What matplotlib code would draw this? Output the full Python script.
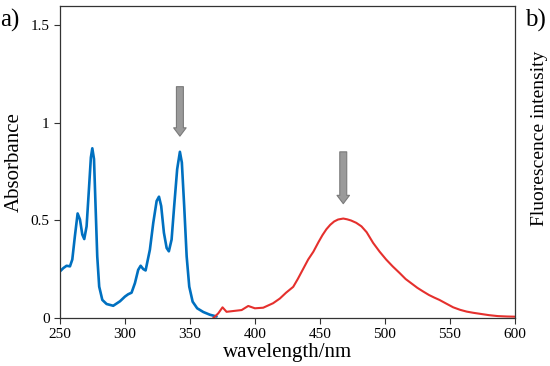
import matplotlib
matplotlib.use("Agg")
import matplotlib.pyplot as plt

plt.rcParams['font.family'] = ['Liberation Serif', 'DejaVu Serif']

# Absorbance (blue)
abs_wl = [250, 252.6, 255.1, 257.7, 259.5, 261.5, 263.6, 265.4, 267.2, 268.7, 270.5, 272.3, 273.8, 274.9, 276.2,
          277.4, 278.7, 280.2, 282.6, 285.9, 291, 296.2, 300, 302.5, 305.1, 307.7, 310.2, 312.1, 314.1, 315.9,
          319.2, 321.8, 324.4, 326.2, 327.9, 330, 332.1, 333.8, 335.9, 337.9, 340.2, 342.3, 343.8, 345.6, 347.5,
          349.5, 352.1, 355.6, 360.3, 365.4, 370.5]
abs_val = [0.239, 0.256, 0.268, 0.265, 0.30, 0.42, 0.536, 0.505, 0.428, 0.405, 0.47, 0.66, 0.823, 0.87, 0.815,
           0.574, 0.316, 0.161, 0.093, 0.072, 0.063, 0.086, 0.11, 0.122, 0.13, 0.179, 0.247, 0.268, 0.251, 0.244,
           0.35, 0.488, 0.60, 0.622, 0.574, 0.437, 0.359, 0.342, 0.402, 0.574, 0.763, 0.852, 0.797, 0.574, 0.316,
           0.161, 0.084, 0.05, 0.031, 0.017, 0.008]

# Fluorescence (red)
fl_wl = [368, 371.8, 375.1, 378.2, 383.3, 389.8, 394.9, 400, 406.4, 414, 419.2, 424, 429.5, 433, 437, 441, 445,
         449, 452, 455, 458, 461, 464, 468, 471, 474, 478, 482, 486, 491, 496, 501, 506, 511.5, 516, 521, 525,
         529.5, 534, 538, 542, 547, 552.6, 558, 563, 568, 573, 580, 587, 594, 600]
fl_val = [0.0, 0.024, 0.055, 0.032, 0.036, 0.041, 0.062, 0.05, 0.053, 0.076, 0.10, 0.13, 0.16, 0.2, 0.25, 0.3,
          0.34, 0.39, 0.425, 0.455, 0.478, 0.495, 0.505, 0.51, 0.506, 0.5, 0.488, 0.47, 0.44, 0.385, 0.34, 0.3,
          0.265, 0.23, 0.2, 0.175, 0.155, 0.136, 0.118, 0.105, 0.093, 0.075, 0.055, 0.042, 0.033, 0.027, 0.022,
          0.015, 0.01, 0.008, 0.007]

# Arrows (x, y_top, y_bottom)
arrow_x = [342.3, 468]
arrow_top = [1.20, 0.866]
arrow_bot = [0.918, 0.572]

x_ticks = [250, 300, 350, 400, 450, 500, 550, 600]
y_ticks = [0, 0.5, 1, 1.5]
y_ticklabels = ['0', '0.5', '1', '1.5']

fig = plt.figure(figsize=(5.5, 3.66), dpi=100)
ax = fig.add_axes([0.109, 0.131, 0.827, 0.853])
ax.plot(abs_wl, abs_val, color='#0070C0', lw=1.9, solid_capstyle='round', solid_joinstyle='round')
ax.plot(fl_wl, fl_val, color='#E5302D', lw=1.5, solid_joinstyle='round')

for x, yt, yb in zip(arrow_x, arrow_top, arrow_bot):
    ax.annotate('', xy=(x, yb), xytext=(x, yt),
                arrowprops=dict(arrowstyle='simple,head_length=0.6,head_width=0.9,tail_width=0.5',
                                facecolor='#9A9A9A', edgecolor='#7A7A7A', lw=0.8))

ax.set_xlim(250, 600)
ax.set_ylim(0, 1.6)
ax.set_xticks(x_ticks)
ax.set_yticks(y_ticks)
ax.set_yticklabels(y_ticklabels)
ax.tick_params(labelsize=11, length=4, width=0.8, direction='out', color='#333333')
for s in ax.spines.values():
    s.set_linewidth(0.9)
    s.set_color('#333333')
ax.set_xlabel('wavelength/nm', fontsize=15, labelpad=1)
ax.set_ylabel('Absorbance', fontsize=15, labelpad=5)

fig.text(0.0, 0.975, 'a)', fontsize=18, va='top', ha='left')
fig.text(0.955, 0.975, 'b)', fontsize=18, va='top', ha='left')
fig.text(0.98, 0.623, 'Fluorescence intensity', fontsize=14, rotation=90, va='center', ha='center')

fig.savefig('out.png', dpi=100)
